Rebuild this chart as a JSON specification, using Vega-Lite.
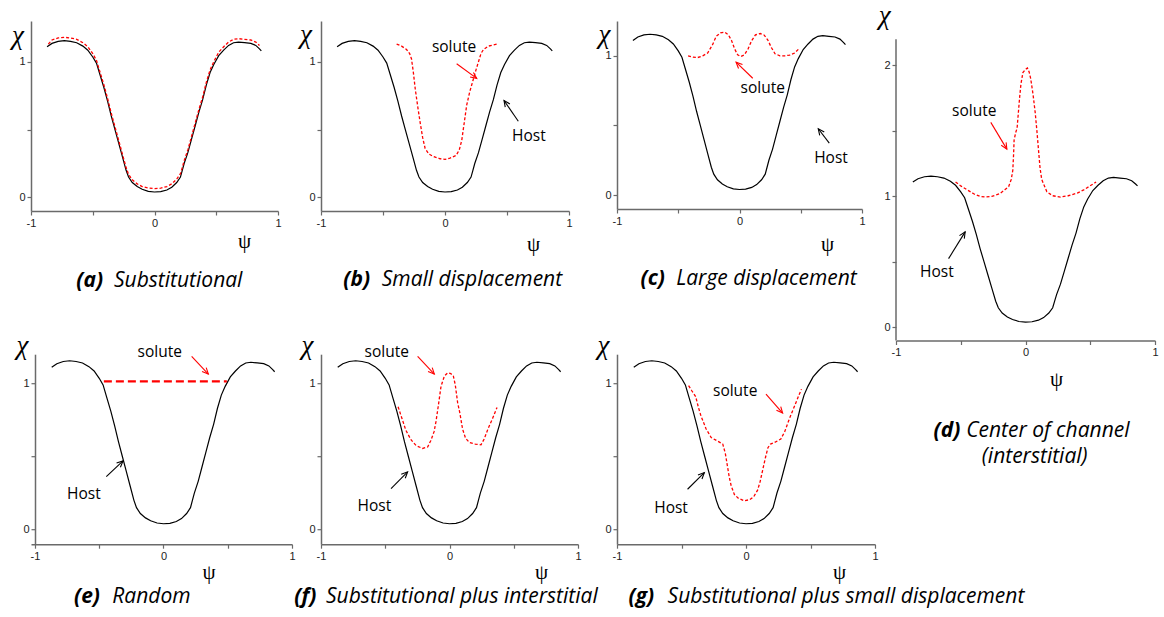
{
"$schema":"https://vega.github.io/schema/vega-lite/v6.json",
"autosize":{"type":"pad"},
"padding":{"left":11,"top":1,"right":4,"bottom":4},
"background":"#ffffff",
"config":{
 "view":{"stroke":null},
 "axis":{"grid":false,"domainColor":"#6a6a6a","domainWidth":1.5,"tickColor":"#6a6a6a","tickWidth":1.2,"tickSize":4,"labelFont":"Liberation Sans","labelFontSize":11,"labelColor":"#222222","labelPadding":2,"labelFlush":false,"labelOverlap":false,"titleFont":"Liberation Serif","titleFontWeight":"normal","titleFontStyle":"italic","titleColor":"#000000","titleAngle":0,"titleAlign":"center","titleBaseline":"alphabetic"},
 "axisX":{"titleFontSize":21,"titleFontStyle":"normal"},
 "axisY":{"titleFontSize":27},
 "text":{"font":"Open Sans"}
},
"datasets":{"host":[
{"x":-0.87,"y":1.11},{"x":-0.83,"y":1.135},{"x":-0.78,"y":1.15},{"x":-0.73,"y":1.155},{"x":-0.68,"y":1.15},{"x":-0.63,"y":1.14},{"x":-0.58,"y":1.115},{"x":-0.54,"y":1.085},{"x":-0.50,"y":1.035},{"x":-0.47,"y":0.99},{"x":-0.44,"y":0.90},{"x":-0.41,"y":0.81},{"x":-0.38,"y":0.71},{"x":-0.35,"y":0.60},{"x":-0.32,"y":0.50},{"x":-0.29,"y":0.40},{"x":-0.26,"y":0.30},{"x":-0.23,"y":0.20},{"x":-0.21,"y":0.15},{"x":-0.18,"y":0.11},{"x":-0.14,"y":0.08},{"x":-0.10,"y":0.06},{"x":-0.05,"y":0.045},{"x":0,"y":0.04},{"x":0.05,"y":0.043},{"x":0.10,"y":0.055},{"x":0.14,"y":0.075},{"x":0.18,"y":0.11},{"x":0.21,"y":0.15},{"x":0.225,"y":0.2},{"x":0.24,"y":0.25},{"x":0.27,"y":0.33},{"x":0.30,"y":0.43},{"x":0.33,"y":0.53},{"x":0.36,"y":0.63},{"x":0.39,"y":0.72},{"x":0.42,"y":0.83},{"x":0.45,"y":0.92},{"x":0.48,"y":0.98},{"x":0.52,"y":1.045},{"x":0.56,"y":1.085},{"x":0.60,"y":1.12},{"x":0.64,"y":1.14},{"x":0.68,"y":1.145},{"x":0.73,"y":1.14},{"x":0.78,"y":1.135},{"x":0.82,"y":1.12},{"x":0.85,"y":1.095},{"x":0.865,"y":1.08}
]},
"columns":7,"spacing":{"row":13.2,"column":0},"bounds":"flush","align":"each",
"concat":[
 {"width":247,"height":190,"layer":[
   {"data":{"name":"host"},"mark":{"type":"line","color":"#000000","strokeWidth":1.2},"encoding":{
     "x":{"field":"x","type":"quantitative","scale":{"domain":[-1,1],"nice":false,"zero":false},"axis":{"values":[-1,-0.5,0,0.5,1],"labelExpr":"datum.value % 1 == 0 ? toString(datum.value) : ''","title":"ψ","titleX":213,"titleY":36}},
     "y":{"field":"y","type":"quantitative","scale":{"domain":[-0.1,1.3],"nice":false,"zero":false},"axis":{"values":[0,0.5,1],"labelExpr":"datum.value % 1 == 0 ? toString(datum.value) : ''","title":"χ","titleX":-13.5,"titleY":22}}}},
   {"data":{"values":[{"x":-0.86,"y":1.13},{"x":-0.83,"y":1.16},{"x":-0.78,"y":1.175},{"x":-0.73,"y":1.18},{"x":-0.68,"y":1.175},{"x":-0.63,"y":1.165},{"x":-0.58,"y":1.14},{"x":-0.54,"y":1.11},{"x":-0.50,"y":1.06},{"x":-0.47,"y":1.01},{"x":-0.44,"y":0.92},{"x":-0.41,"y":0.83},{"x":-0.38,"y":0.73},{"x":-0.35,"y":0.62},{"x":-0.32,"y":0.52},{"x":-0.29,"y":0.42},{"x":-0.26,"y":0.32},{"x":-0.23,"y":0.22},{"x":-0.21,"y":0.17},{"x":-0.18,"y":0.13},{"x":-0.14,"y":0.10},{"x":-0.10,"y":0.08},{"x":-0.05,"y":0.07},{"x":0,"y":0.065},{"x":0.05,"y":0.068},{"x":0.10,"y":0.08},{"x":0.14,"y":0.10},{"x":0.18,"y":0.135},{"x":0.21,"y":0.175},{"x":0.225,"y":0.22},{"x":0.24,"y":0.27},{"x":0.27,"y":0.35},{"x":0.30,"y":0.45},{"x":0.33,"y":0.55},{"x":0.36,"y":0.65},{"x":0.39,"y":0.74},{"x":0.42,"y":0.85},{"x":0.45,"y":0.94},{"x":0.48,"y":1.0},{"x":0.52,"y":1.07},{"x":0.56,"y":1.11},{"x":0.60,"y":1.145},{"x":0.64,"y":1.165},{"x":0.68,"y":1.17},{"x":0.73,"y":1.165},{"x":0.78,"y":1.16},{"x":0.82,"y":1.145},{"x":0.85,"y":1.12}]},
    "mark":{"type":"line","color":"#ff0000","strokeWidth":1.3,"strokeDash":[3,2]},"encoding":{"x":{"field":"x","type":"quantitative"},"y":{"field":"y","type":"quantitative"}}},
   {"data":{"values":[{"x":-0.633,"y":-0.657,"t":"(a)"}]},"mark":{"type":"text","fontSize":21,"fontWeight":"bold","fontStyle":"italic","align":"left","baseline":"alphabetic","color":"#000000"},"encoding":{"x":{"field":"x","type":"quantitative"},"y":{"field":"y","type":"quantitative"},"text":{"field":"t"}}},
   {"data":{"values":[{"x":-0.328,"y":-0.657,"t":"Substitutional"}]},"mark":{"type":"text","fontSize":21,"fontStyle":"italic","align":"left","baseline":"alphabetic","color":"#000000"},"encoding":{"x":{"field":"x","type":"quantitative"},"y":{"field":"y","type":"quantitative"},"text":{"field":"t"}}}
 ]},
 {"width":28.5,"height":1,"data":{"values":[{}]},"mark":{"type":"point","opacity":0}},
 {"width":248,"height":190,"layer":[
   {"data":{"name":"host"},"mark":{"type":"line","color":"#000000","strokeWidth":1.2},"encoding":{
     "x":{"field":"x","type":"quantitative","scale":{"domain":[-1,1],"nice":false,"zero":false},"axis":{"values":[-1,-0.5,0,0.5,1],"labelExpr":"datum.value % 1 == 0 ? toString(datum.value) : ''","title":"ψ","titleX":212,"titleY":39}},
     "y":{"field":"y","type":"quantitative","scale":{"domain":[-0.1,1.3],"nice":false,"zero":false},"axis":{"values":[0,0.5,1],"labelExpr":"datum.value % 1 == 0 ? toString(datum.value) : ''","title":"χ","titleX":-15.5,"titleY":21.5}}}},
   {"data":{"values":[{"x":-0.39,"y":1.13},{"x":-0.35,"y":1.115},{"x":-0.31,"y":1.09},{"x":-0.285,"y":1.06},{"x":-0.27,"y":1.02},{"x":-0.255,"y":0.92},{"x":-0.24,"y":0.80},{"x":-0.22,"y":0.67},{"x":-0.20,"y":0.55},{"x":-0.18,"y":0.44},{"x":-0.16,"y":0.36},{"x":-0.13,"y":0.32},{"x":-0.09,"y":0.30},{"x":-0.04,"y":0.285},{"x":0,"y":0.28},{"x":0.04,"y":0.29},{"x":0.09,"y":0.31},{"x":0.115,"y":0.35},{"x":0.135,"y":0.42},{"x":0.155,"y":0.55},{"x":0.175,"y":0.68},{"x":0.20,"y":0.78},{"x":0.225,"y":0.86},{"x":0.25,"y":0.94},{"x":0.27,"y":1.0},{"x":0.29,"y":1.06},{"x":0.31,"y":1.09},{"x":0.35,"y":1.115},{"x":0.42,"y":1.13}]},
    "mark":{"type":"line","color":"#ff0000","strokeWidth":1.3,"strokeDash":[3,2]},"encoding":{"x":{"field":"x","type":"quantitative"},"y":{"field":"y","type":"quantitative"}}},
   {"data":{"values":[{"x":0.073,"y":1.109,"t":"solute"},{"x":0.677,"y":0.45,"t":"Host"}]},"mark":{"type":"text","fontSize":15.5,"color":"#000000"},"encoding":{"x":{"field":"x","type":"quantitative"},"y":{"field":"y","type":"quantitative"},"text":{"field":"t"}}},
   {"data":{"values":[{"x":0.094,"y":0.985,"x2":0.256,"y2":0.877,"k":"solute"},{"x":0.591,"y":0.561,"x2":0.476,"y2":0.714,"k":"Host"}]},"mark":{"type":"rule","strokeWidth":1.1},"encoding":{"x":{"field":"x","type":"quantitative"},"y":{"field":"y","type":"quantitative"},"x2":{"field":"x2"},"y2":{"field":"y2"},"color":{"field":"k","type":"nominal","scale":{"domain":["solute","Host"],"range":["#ff0000","#000000"]},"legend":null}}},
   {"data":{"values":[{"x":0.256,"y":0.877}]},"mark":{"type":"point","shape":"M-0.6,1.3L0,0L0.6,1.3","size":90,"filled":false,"stroke":"#ff0000","strokeWidth":1.1,"opacity":1,"angle":126},"encoding":{"x":{"field":"x","type":"quantitative"},"y":{"field":"y","type":"quantitative"}}},
   {"data":{"values":[{"x":0.476,"y":0.714}]},"mark":{"type":"point","shape":"M-0.6,1.3L0,0L0.6,1.3","size":90,"filled":false,"stroke":"#000000","strokeWidth":1.1,"opacity":1,"angle":-35},"encoding":{"x":{"field":"x","type":"quantitative"},"y":{"field":"y","type":"quantitative"}}},
   {"data":{"values":[{"x":-0.82,"y":-0.654,"t":"(b)"}]},"mark":{"type":"text","fontSize":21,"fontWeight":"bold","fontStyle":"italic","align":"left","baseline":"alphabetic","color":"#000000"},"encoding":{"x":{"field":"x","type":"quantitative"},"y":{"field":"y","type":"quantitative"},"text":{"field":"t"}}},
   {"data":{"values":[{"x":-0.51,"y":-0.654,"t":"Small displacement"}]},"mark":{"type":"text","fontSize":21,"fontStyle":"italic","align":"left","baseline":"alphabetic","color":"#000000"},"encoding":{"x":{"field":"x","type":"quantitative"},"y":{"field":"y","type":"quantitative"},"text":{"field":"t"}}}
 ]},
 {"width":38.5,"height":1,"data":{"values":[{}]},"mark":{"type":"point","opacity":0}},
 {"width":245,"height":188,"layer":[
   {"data":{"name":"host"},"mark":{"type":"line","color":"#000000","strokeWidth":1.2},"encoding":{
     "x":{"field":"x","type":"quantitative","scale":{"domain":[-1,1],"nice":false,"zero":false},"axis":{"values":[-1,-0.5,0,0.5,1],"labelExpr":"datum.value % 1 == 0 ? toString(datum.value) : ''","title":"ψ","titleX":210,"titleY":41}},
     "y":{"field":"y","type":"quantitative","scale":{"domain":[-0.1,1.25],"nice":false,"zero":false},"axis":{"values":[0,0.5,1],"labelExpr":"datum.value % 1 == 0 ? toString(datum.value) : ''","title":"χ","titleX":-13,"titleY":21.5}}}},
   {"data":{"values":[{"x":-0.42,"y":1.0},{"x":-0.38,"y":0.99},{"x":-0.34,"y":0.988},{"x":-0.30,"y":1.0},{"x":-0.26,"y":1.02},{"x":-0.22,"y":1.08},{"x":-0.19,"y":1.14},{"x":-0.155,"y":1.165},{"x":-0.12,"y":1.17},{"x":-0.09,"y":1.15},{"x":-0.065,"y":1.11},{"x":-0.04,"y":1.05},{"x":-0.015,"y":1.007},{"x":0.01,"y":0.995},{"x":0.04,"y":1.007},{"x":0.07,"y":1.05},{"x":0.10,"y":1.11},{"x":0.13,"y":1.15},{"x":0.17,"y":1.16},{"x":0.20,"y":1.15},{"x":0.23,"y":1.115},{"x":0.26,"y":1.06},{"x":0.29,"y":1.015},{"x":0.33,"y":1.0},{"x":0.37,"y":1.0},{"x":0.41,"y":1.005},{"x":0.45,"y":1.02},{"x":0.49,"y":1.055}]},
    "mark":{"type":"line","color":"#ff0000","strokeWidth":1.3,"strokeDash":[3,2]},"encoding":{"x":{"field":"x","type":"quantitative"},"y":{"field":"y","type":"quantitative"}}},
   {"data":{"values":[{"x":0.19,"y":0.768,"t":"solute"},{"x":0.747,"y":0.265,"t":"Host"}]},"mark":{"type":"text","fontSize":15.5,"color":"#000000"},"encoding":{"x":{"field":"x","type":"quantitative"},"y":{"field":"y","type":"quantitative"},"text":{"field":"t"}}},
   {"data":{"values":[{"x":0.108,"y":0.839,"x2":-0.028,"y2":0.954,"k":"solute"},{"x":0.733,"y":0.373,"x2":0.643,"y2":0.476,"k":"Host"}]},"mark":{"type":"rule","strokeWidth":1.1},"encoding":{"x":{"field":"x","type":"quantitative"},"y":{"field":"y","type":"quantitative"},"x2":{"field":"x2"},"y2":{"field":"y2"},"color":{"field":"k","type":"nominal","scale":{"domain":["solute","Host"],"range":["#ff0000","#000000"]},"legend":null}}},
   {"data":{"values":[{"x":-0.028,"y":0.954}]},"mark":{"type":"point","shape":"M-0.6,1.3L0,0L0.6,1.3","size":90,"filled":false,"stroke":"#ff0000","strokeWidth":1.1,"opacity":1,"angle":-46},"encoding":{"x":{"field":"x","type":"quantitative"},"y":{"field":"y","type":"quantitative"}}},
   {"data":{"values":[{"x":0.643,"y":0.476}]},"mark":{"type":"point","shape":"M-0.6,1.3L0,0L0.6,1.3","size":90,"filled":false,"stroke":"#000000","strokeWidth":1.1,"opacity":1,"angle":-37},"encoding":{"x":{"field":"x","type":"quantitative"},"y":{"field":"y","type":"quantitative"}}},
   {"data":{"values":[{"x":-0.808,"y":-0.648,"t":"(c)"}]},"mark":{"type":"text","fontSize":21,"fontWeight":"bold","fontStyle":"italic","align":"left","baseline":"alphabetic","color":"#000000"},"encoding":{"x":{"field":"x","type":"quantitative"},"y":{"field":"y","type":"quantitative"},"text":{"field":"t"}}},
   {"data":{"values":[{"x":-0.517,"y":-0.648,"t":"Large displacement"}]},"mark":{"type":"text","fontSize":21,"fontStyle":"italic","align":"left","baseline":"alphabetic","color":"#000000"},"encoding":{"x":{"field":"x","type":"quantitative"},"y":{"field":"y","type":"quantitative"},"text":{"field":"t"}}}
 ]},
 {"width":21,"height":1,"data":{"values":[{}]},"mark":{"type":"point","opacity":0}},
 {"width":259,"height":319.5,"layer":[
   {"data":{"name":"host"},"mark":{"type":"line","color":"#000000","strokeWidth":1.2},"encoding":{
     "x":{"field":"x","type":"quantitative","scale":{"domain":[-1,1],"nice":false,"zero":false},"axis":{"values":[-1,-0.5,0,0.5,1],"labelExpr":"datum.value % 1 == 0 ? toString(datum.value) : ''","title":"ψ","titleX":160,"titleY":44.5}},
     "y":{"field":"y","type":"quantitative","scale":{"domain":[-0.1,2.339],"nice":false,"zero":false},"axis":{"values":[0,0.5,1,1.5,2],"domain":false,"labelExpr":"datum.value % 1 == 0 ? toString(datum.value) : ''","title":"χ","titleX":-11.7,"titleY":2.8}}}},
   {"data":{"values":[{"x":-1,"y":-0.1,"y2":2.2}]},"mark":{"type":"rule","color":"#6a6a6a","strokeWidth":1.5},"encoding":{"x":{"field":"x","type":"quantitative"},"y":{"field":"y","type":"quantitative"},"y2":{"field":"y2"}}},
   {"data":{"values":[{"x":-0.54,"y":1.11},{"x":-0.50,"y":1.08},{"x":-0.45,"y":1.05},{"x":-0.40,"y":1.02},{"x":-0.35,"y":1.0},{"x":-0.31,"y":0.995},{"x":-0.26,"y":1.0},{"x":-0.20,"y":1.02},{"x":-0.16,"y":1.05},{"x":-0.13,"y":1.075},{"x":-0.11,"y":1.13},{"x":-0.098,"y":1.2},{"x":-0.092,"y":1.32},{"x":-0.088,"y":1.43},{"x":-0.075,"y":1.49},{"x":-0.065,"y":1.52},{"x":-0.055,"y":1.64},{"x":-0.045,"y":1.76},{"x":-0.035,"y":1.86},{"x":-0.02,"y":1.945},{"x":0,"y":1.97},{"x":0.015,"y":1.98},{"x":0.028,"y":1.95},{"x":0.04,"y":1.9},{"x":0.058,"y":1.78},{"x":0.075,"y":1.64},{"x":0.088,"y":1.5},{"x":0.10,"y":1.36},{"x":0.112,"y":1.22},{"x":0.125,"y":1.13},{"x":0.165,"y":1.035},{"x":0.21,"y":1.005},{"x":0.27,"y":0.995},{"x":0.33,"y":1.005},{"x":0.40,"y":1.025},{"x":0.45,"y":1.05},{"x":0.49,"y":1.075},{"x":0.545,"y":1.11}]},
    "mark":{"type":"line","color":"#ff0000","strokeWidth":1.3,"strokeDash":[3,2]},"encoding":{"x":{"field":"x","type":"quantitative"},"y":{"field":"y","type":"quantitative"}}},
   {"data":{"values":[{"x":-0.396,"y":1.649,"t":"solute"},{"x":-0.684,"y":0.422,"t":"Host"}]},"mark":{"type":"text","fontSize":15.5,"color":"#000000"},"encoding":{"x":{"field":"x","type":"quantitative"},"y":{"field":"y","type":"quantitative"},"text":{"field":"t"}}},
   {"data":{"values":[{"x":-0.268,"y":1.565,"x2":-0.144,"y2":1.361,"k":"solute"},{"x":-0.594,"y":0.525,"x2":-0.466,"y2":0.729,"k":"Host"}]},"mark":{"type":"rule","strokeWidth":1.1},"encoding":{"x":{"field":"x","type":"quantitative"},"y":{"field":"y","type":"quantitative"},"x2":{"field":"x2"},"y2":{"field":"y2"},"color":{"field":"k","type":"nominal","scale":{"domain":["solute","Host"],"range":["#ff0000","#000000"]},"legend":null}}},
   {"data":{"values":[{"x":-0.144,"y":1.361}]},"mark":{"type":"point","shape":"M-0.6,1.3L0,0L0.6,1.3","size":90,"filled":false,"stroke":"#ff0000","strokeWidth":1.1,"opacity":1,"angle":149},"encoding":{"x":{"field":"x","type":"quantitative"},"y":{"field":"y","type":"quantitative"}}},
   {"data":{"values":[{"x":-0.466,"y":0.729}]},"mark":{"type":"point","shape":"M-0.6,1.3L0,0L0.6,1.3","size":90,"filled":false,"stroke":"#000000","strokeWidth":1.1,"opacity":1,"angle":32},"encoding":{"x":{"field":"x","type":"quantitative"},"y":{"field":"y","type":"quantitative"}}},
   {"data":{"values":[{"x":-0.71,"y":-0.839,"t":"(d)"}]},"mark":{"type":"text","fontSize":21,"fontWeight":"bold","fontStyle":"italic","align":"left","baseline":"alphabetic","color":"#000000"},"encoding":{"x":{"field":"x","type":"quantitative"},"y":{"field":"y","type":"quantitative"},"text":{"field":"t"}}},
   {"data":{"values":[{"x":-0.458,"y":-0.839,"t":"Center of channel"},{"x":-0.337,"y":-1.035,"t":"(interstitial)"}]},"mark":{"type":"text","fontSize":21,"fontStyle":"italic","align":"left","baseline":"alphabetic","color":"#000000"},"encoding":{"x":{"field":"x","type":"quantitative"},"y":{"field":"y","type":"quantitative"},"text":{"field":"t"}}}
 ]},

 {"width":261,"height":190,"layer":[
   {"data":{"name":"host"},"mark":{"type":"line","color":"#000000","strokeWidth":1.2},"encoding":{
     "x":{"field":"x","type":"quantitative","scale":{"domain":[-1.031,1],"nice":false,"zero":false},"axis":{"values":[-1,-0.5,0,0.5,1],"labelExpr":"datum.value % 1 == 0 ? toString(datum.value) : ''","title":"ψ","titleX":177.5,"titleY":34}},
     "y":{"field":"y","type":"quantitative","scale":{"domain":[-0.1,1.2],"nice":false,"zero":false},"axis":{"values":[0,0.5,1],"offset":-4,"labelExpr":"datum.value % 1 == 0 ? toString(datum.value) : ''","title":"χ","titleX":-13,"titleY":-1}}}},
   {"data":{"values":[{"x":-0.464,"y":1.014},{"x":0.493,"y":1.014}]},
    "mark":{"type":"line","color":"#ff0000","strokeWidth":2.2,"strokeDash":[8,4]},"encoding":{"x":{"field":"x","type":"quantitative"},"y":{"field":"y","type":"quantitative"}}},
   {"data":{"values":[{"x":-0.029,"y":1.212,"t":"solute"},{"x":-0.619,"y":0.242,"t":"Host"}]},"mark":{"type":"text","fontSize":15.5,"color":"#000000"},"encoding":{"x":{"field":"x","type":"quantitative"},"y":{"field":"y","type":"quantitative"},"text":{"field":"t"}}},
   {"data":{"values":[{"x":0.219,"y":1.185,"x2":0.349,"y2":1.064,"k":"solute"},{"x":-0.445,"y":0.363,"x2":-0.315,"y2":0.47,"k":"Host"}]},"mark":{"type":"rule","strokeWidth":1.1},"encoding":{"x":{"field":"x","type":"quantitative"},"y":{"field":"y","type":"quantitative"},"x2":{"field":"x2"},"y2":{"field":"y2"},"color":{"field":"k","type":"nominal","scale":{"domain":["solute","Host"],"range":["#ff0000","#000000"]},"legend":null}}},
   {"data":{"values":[{"x":0.349,"y":1.064}]},"mark":{"type":"point","shape":"M-0.6,1.3L0,0L0.6,1.3","size":90,"filled":false,"stroke":"#ff0000","strokeWidth":1.1,"opacity":1,"angle":137},"encoding":{"x":{"field":"x","type":"quantitative"},"y":{"field":"y","type":"quantitative"}}},
   {"data":{"values":[{"x":-0.315,"y":0.47}]},"mark":{"type":"point","shape":"M-0.6,1.3L0,0L0.6,1.3","size":90,"filled":false,"stroke":"#000000","strokeWidth":1.1,"opacity":1,"angle":47},"encoding":{"x":{"field":"x","type":"quantitative"},"y":{"field":"y","type":"quantitative"}}},
   {"data":{"values":[{"x":-0.696,"y":-0.5,"t":"(e)"}]},"mark":{"type":"text","fontSize":21,"fontWeight":"bold","fontStyle":"italic","align":"left","baseline":"alphabetic","color":"#000000"},"encoding":{"x":{"field":"x","type":"quantitative"},"y":{"field":"y","type":"quantitative"},"text":{"field":"t"}}},
   {"data":{"values":[{"x":-0.398,"y":-0.5,"t":"Random"}]},"mark":{"type":"text","fontSize":21,"fontStyle":"italic","align":"left","baseline":"alphabetic","color":"#000000"},"encoding":{"x":{"field":"x","type":"quantitative"},"y":{"field":"y","type":"quantitative"},"text":{"field":"t"}}}
 ]},
 {"width":28.5,"height":1,"data":{"values":[{}]},"mark":{"type":"point","opacity":0}},
 {"width":257,"height":190,"layer":[
   {"data":{"name":"host"},"mark":{"type":"line","color":"#000000","strokeWidth":1.2},"encoding":{
     "x":{"field":"x","type":"quantitative","scale":{"domain":[-1,1],"nice":false,"zero":false},"axis":{"values":[-1,-0.5,0,0.5,1],"labelExpr":"datum.value % 1 == 0 ? toString(datum.value) : ''","title":"ψ","titleX":220,"titleY":34}},
     "y":{"field":"y","type":"quantitative","scale":{"domain":[-0.1,1.2],"nice":false,"zero":false},"axis":{"values":[0,0.5,1],"labelExpr":"datum.value % 1 == 0 ? toString(datum.value) : ''","title":"χ","titleX":-14,"titleY":-1}}}},
   {"data":{"values":[{"x":-0.40,"y":0.84},{"x":-0.37,"y":0.76},{"x":-0.34,"y":0.68},{"x":-0.30,"y":0.615},{"x":-0.26,"y":0.575},{"x":-0.21,"y":0.555},{"x":-0.17,"y":0.565},{"x":-0.145,"y":0.61},{"x":-0.12,"y":0.67},{"x":-0.105,"y":0.74},{"x":-0.085,"y":0.86},{"x":-0.066,"y":0.98},{"x":-0.04,"y":1.05},{"x":-0.015,"y":1.072},{"x":0.01,"y":1.068},{"x":0.03,"y":1.05},{"x":0.045,"y":0.99},{"x":0.063,"y":0.87},{"x":0.08,"y":0.80},{"x":0.102,"y":0.687},{"x":0.125,"y":0.625},{"x":0.155,"y":0.596},{"x":0.20,"y":0.585},{"x":0.245,"y":0.58},{"x":0.27,"y":0.62},{"x":0.30,"y":0.69},{"x":0.335,"y":0.76},{"x":0.37,"y":0.836}]},
    "mark":{"type":"line","color":"#ff0000","strokeWidth":1.3,"strokeDash":[3,2]},"encoding":{"x":{"field":"x","type":"quantitative"},"y":{"field":"y","type":"quantitative"}}},
   {"data":{"values":[{"x":-0.488,"y":1.212,"t":"solute"},{"x":-0.585,"y":0.162,"t":"Host"}]},"mark":{"type":"text","fontSize":15.5,"color":"#000000"},"encoding":{"x":{"field":"x","type":"quantitative"},"y":{"field":"y","type":"quantitative"},"text":{"field":"t"}}},
   {"data":{"values":[{"x":-0.248,"y":1.185,"x2":-0.118,"y2":1.064,"k":"solute"},{"x":-0.455,"y":0.281,"x2":-0.326,"y2":0.395,"k":"Host"}]},"mark":{"type":"rule","strokeWidth":1.1},"encoding":{"x":{"field":"x","type":"quantitative"},"y":{"field":"y","type":"quantitative"},"x2":{"field":"x2"},"y2":{"field":"y2"},"color":{"field":"k","type":"nominal","scale":{"domain":["solute","Host"],"range":["#ff0000","#000000"]},"legend":null}}},
   {"data":{"values":[{"x":-0.118,"y":1.064}]},"mark":{"type":"point","shape":"M-0.6,1.3L0,0L0.6,1.3","size":90,"filled":false,"stroke":"#ff0000","strokeWidth":1.1,"opacity":1,"angle":137},"encoding":{"x":{"field":"x","type":"quantitative"},"y":{"field":"y","type":"quantitative"}}},
   {"data":{"values":[{"x":-0.326,"y":0.395}]},"mark":{"type":"point","shape":"M-0.6,1.3L0,0L0.6,1.3","size":90,"filled":false,"stroke":"#000000","strokeWidth":1.1,"opacity":1,"angle":45},"encoding":{"x":{"field":"x","type":"quantitative"},"y":{"field":"y","type":"quantitative"}}},
   {"data":{"values":[{"x":-1.208,"y":-0.5,"t":"(f)"}]},"mark":{"type":"text","fontSize":21,"fontWeight":"bold","fontStyle":"italic","align":"left","baseline":"alphabetic","color":"#000000"},"encoding":{"x":{"field":"x","type":"quantitative"},"y":{"field":"y","type":"quantitative"},"text":{"field":"t"}}},
   {"data":{"values":[{"x":-0.961,"y":-0.5,"t":"Substitutional plus interstitial"}]},"mark":{"type":"text","fontSize":21,"fontStyle":"italic","align":"left","baseline":"alphabetic","color":"#000000"},"encoding":{"x":{"field":"x","type":"quantitative"},"y":{"field":"y","type":"quantitative"},"text":{"field":"t"}}}
 ]},
 {"width":38.5,"height":1,"data":{"values":[{}]},"mark":{"type":"point","opacity":0}},
 {"width":258,"height":190,"layer":[
   {"data":{"name":"host"},"mark":{"type":"line","color":"#000000","strokeWidth":1.2},"encoding":{
     "x":{"field":"x","type":"quantitative","scale":{"domain":[-1,1],"nice":false,"zero":false},"axis":{"values":[-1,-0.5,0,0.5,1],"labelExpr":"datum.value % 1 == 0 ? toString(datum.value) : ''","title":"ψ","titleX":222,"titleY":34}},
     "y":{"field":"y","type":"quantitative","scale":{"domain":[-0.1,1.2],"nice":false,"zero":false},"axis":{"values":[0,0.5,1],"labelExpr":"datum.value % 1 == 0 ? toString(datum.value) : ''","title":"χ","titleX":-14,"titleY":-1}}}},
   {"data":{"values":[{"x":-0.445,"y":0.985},{"x":-0.42,"y":0.95},{"x":-0.39,"y":0.91},{"x":-0.37,"y":0.84},{"x":-0.35,"y":0.78},{"x":-0.31,"y":0.69},{"x":-0.27,"y":0.63},{"x":-0.22,"y":0.605},{"x":-0.18,"y":0.585},{"x":-0.16,"y":0.52},{"x":-0.145,"y":0.44},{"x":-0.13,"y":0.36},{"x":-0.115,"y":0.30},{"x":-0.09,"y":0.24},{"x":-0.06,"y":0.215},{"x":-0.015,"y":0.197},{"x":0.03,"y":0.205},{"x":0.06,"y":0.225},{"x":0.09,"y":0.27},{"x":0.11,"y":0.33},{"x":0.13,"y":0.41},{"x":0.15,"y":0.49},{"x":0.17,"y":0.56},{"x":0.19,"y":0.585},{"x":0.23,"y":0.60},{"x":0.27,"y":0.62},{"x":0.30,"y":0.67},{"x":0.335,"y":0.755},{"x":0.36,"y":0.81},{"x":0.39,"y":0.875},{"x":0.41,"y":0.92},{"x":0.43,"y":0.96}]},
    "mark":{"type":"line","color":"#ff0000","strokeWidth":1.3,"strokeDash":[3,2]},"encoding":{"x":{"field":"x","type":"quantitative"},"y":{"field":"y","type":"quantitative"}}},
   {"data":{"values":[{"x":-0.084,"y":0.945,"t":"solute"},{"x":-0.581,"y":0.151,"t":"Host"}]},"mark":{"type":"text","fontSize":15.5,"color":"#000000"},"encoding":{"x":{"field":"x","type":"quantitative"},"y":{"field":"y","type":"quantitative"},"text":{"field":"t"}}},
   {"data":{"values":[{"x":0.155,"y":0.927,"x2":0.284,"y2":0.797,"k":"solute"},{"x":-0.453,"y":0.276,"x2":-0.323,"y2":0.39,"k":"Host"}]},"mark":{"type":"rule","strokeWidth":1.1},"encoding":{"x":{"field":"x","type":"quantitative"},"y":{"field":"y","type":"quantitative"},"x2":{"field":"x2"},"y2":{"field":"y2"},"color":{"field":"k","type":"nominal","scale":{"domain":["solute","Host"],"range":["#ff0000","#000000"]},"legend":null}}},
   {"data":{"values":[{"x":0.284,"y":0.797}]},"mark":{"type":"point","shape":"M-0.6,1.3L0,0L0.6,1.3","size":90,"filled":false,"stroke":"#ff0000","strokeWidth":1.1,"opacity":1,"angle":139},"encoding":{"x":{"field":"x","type":"quantitative"},"y":{"field":"y","type":"quantitative"}}},
   {"data":{"values":[{"x":-0.323,"y":0.39}]},"mark":{"type":"point","shape":"M-0.6,1.3L0,0L0.6,1.3","size":90,"filled":false,"stroke":"#000000","strokeWidth":1.1,"opacity":1,"angle":45},"encoding":{"x":{"field":"x","type":"quantitative"},"y":{"field":"y","type":"quantitative"}}},
   {"data":{"values":[{"x":-0.91,"y":-0.5,"t":"(g)"}]},"mark":{"type":"text","fontSize":21,"fontWeight":"bold","fontStyle":"italic","align":"left","baseline":"alphabetic","color":"#000000"},"encoding":{"x":{"field":"x","type":"quantitative"},"y":{"field":"y","type":"quantitative"},"text":{"field":"t"}}},
   {"data":{"values":[{"x":-0.608,"y":-0.5,"t":"Substitutional plus small displacement"}]},"mark":{"type":"text","fontSize":21,"fontStyle":"italic","align":"left","baseline":"alphabetic","color":"#000000"},"encoding":{"x":{"field":"x","type":"quantitative"},"y":{"field":"y","type":"quantitative"},"text":{"field":"t"}}}
 ]},
 {"width":21,"height":1,"data":{"values":[{}]},"mark":{"type":"point","opacity":0}},
 {"width":1,"height":1,"data":{"values":[{}]},"mark":{"type":"point","opacity":0}}
]
}
